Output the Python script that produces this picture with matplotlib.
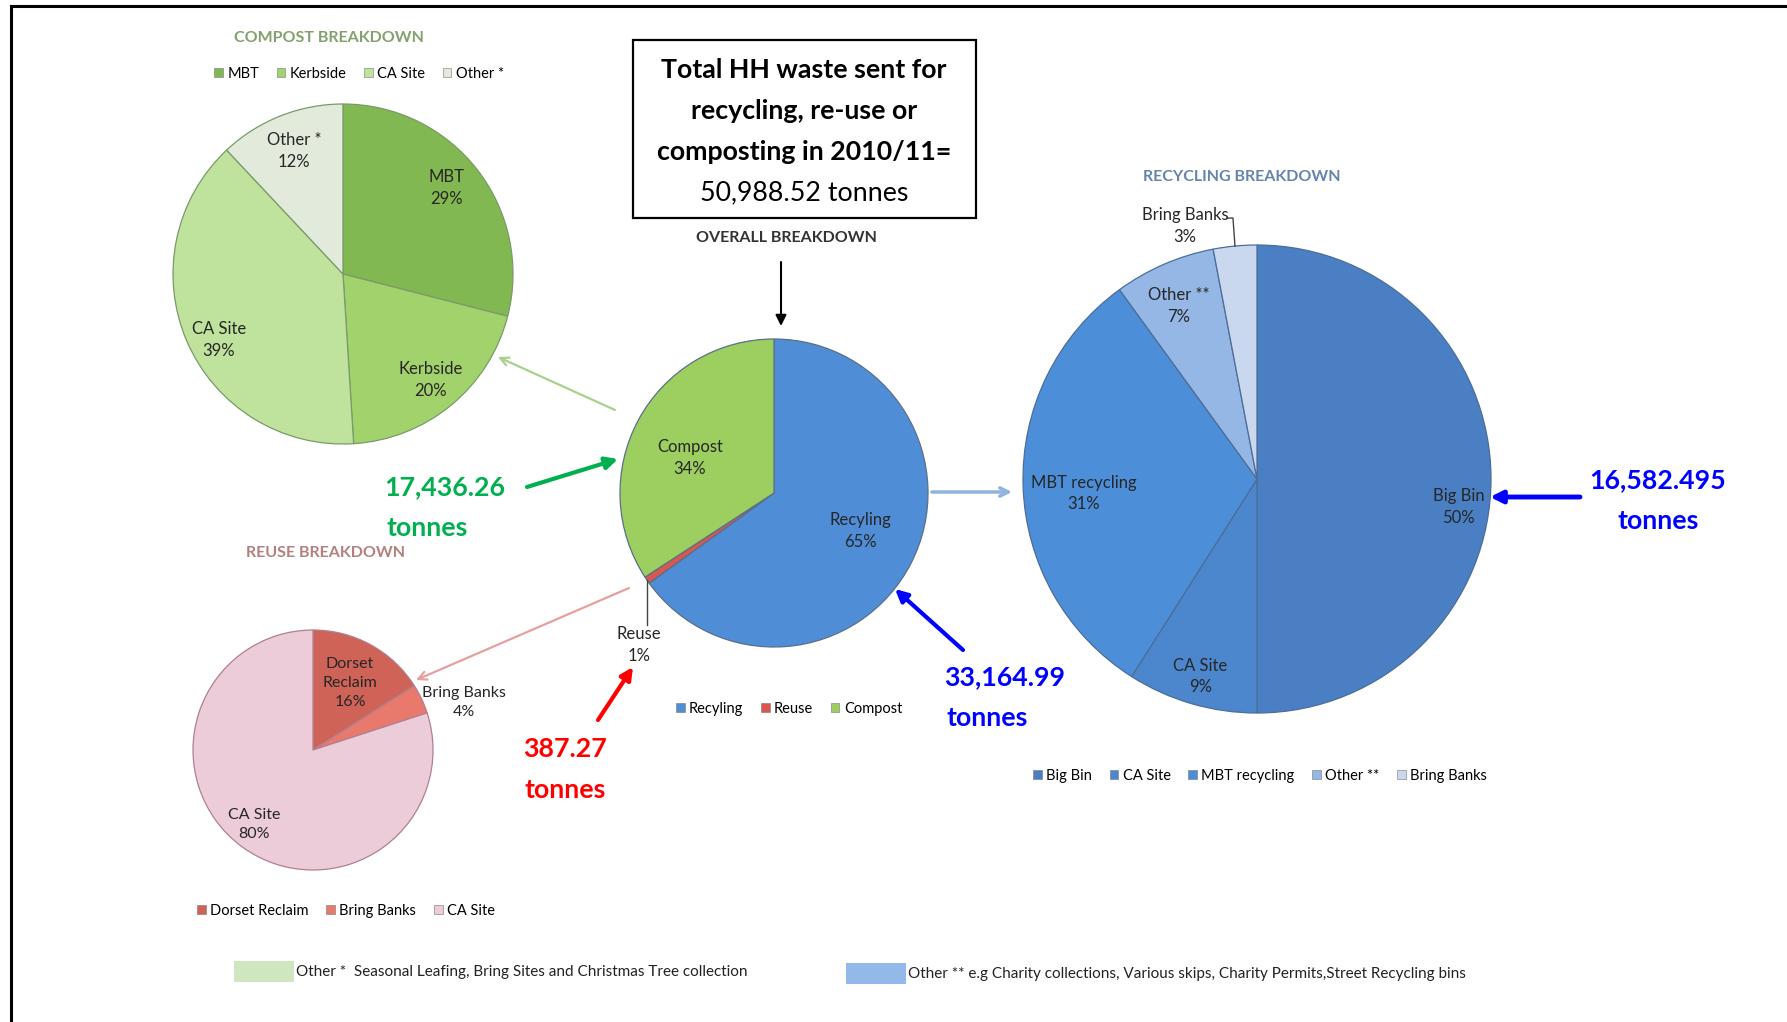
import numpy as np
import matplotlib
matplotlib.use("Agg")
import matplotlib.pyplot as plt
from matplotlib.patches import Rectangle, Patch

plt.rcParams['font.family'] = ['Lato', 'DejaVu Sans']

# ---------------- data ----------------
compost_labels = ['MBT', 'Kerbside', 'CA Site', 'Other *']
compost_pct = [29, 20, 39, 12]

overall_labels = ['Recyling', 'Reuse', 'Compost']
overall_tonnes = [33164.99, 387.27, 17436.26]

recycling_labels = ['Big Bin', 'CA Site', 'MBT recycling', 'Other **', 'Bring Banks']
recycling_pct = [50, 9, 31, 7, 3]

reuse_labels = ['Dorset Reclaim', 'Bring Banks', 'CA Site']
reuse_pct = [16, 4, 80]

total_tonnes = "50,988.52"
compost_total = "17,436.26"
reuse_total = "387.27"
recycling_total = "33,164.99"
bigbin_total = "16,582.495"

# ---------------- styles ----------------
compost_colors = ['#82b851', '#a2d26c', '#bfe29c', '#e2eadb']
overall_colors = ['#4f8ed6', '#d8574e', '#9ccf60']
recycling_colors = ['#4a7fc4', '#4c87cd', '#4c8fd8', '#95b7e6', '#cad8ef']
reuse_colors = ['#cf6357', '#e9786d', '#ecccd9']

W, H = 1787, 1022
fig = plt.figure(figsize=(W / 100, H / 100), dpi=100)
ax = fig.add_axes([0, 0, 1, 1])

LFS = 12
LSP = 1.45


def draw_pie(values, colors, center, radius, edge):
    wedges, _ = ax.pie(values, colors=colors, center=center, radius=radius,
                       startangle=-90, counterclock=True,
                       wedgeprops=dict(edgecolor=edge, linewidth=0.9))
    return wedges


def label_pie(wedges, texts, dists, center, radius, fs=LFS, offsets=None,
              color='#262626'):
    if offsets is None:
        offsets = [(0, 0)] * len(texts)
    for w, t, d, off in zip(wedges, texts, dists, offsets):
        if t is None:
            continue
        th = np.deg2rad((w.theta1 + w.theta2) / 2)
        x = center[0] + d * radius * np.cos(th) + off[0]
        y = center[1] + d * radius * np.sin(th) + off[1]
        ax.text(x, y, t, ha='center', va='center', fontsize=fs, color=color,
                linespacing=LSP, zorder=5)


def pct_texts(labels, values):
    tot = float(sum(values))
    return [f"{l}\n{round(100 * v / tot):.0f}%" for l, v in zip(labels, values)]


# ---- compost pie ----
c_center, c_r = (343, 274), 170
cw = draw_pie(compost_pct, compost_colors, c_center, c_r, '#7a9a6a')
label_pie(cw, pct_texts(compost_labels, compost_pct), [0.8, 0.81, 0.82, 0.78],
          c_center, c_r, offsets=[(-4, -3), (0, 0), (4, 11), (0, 0)])

# ---- overall pie ----
o_center, o_r = (774, 493), 154
ow = draw_pie(overall_tonnes, overall_colors, o_center, o_r, '#5a6f8a')
otexts = pct_texts(overall_labels, overall_tonnes)
label_pie(ow, [otexts[0], None, otexts[2]], [0.61, 0, 0.6], o_center, o_r,
          offsets=[(3, -5), (0, 0), (-3, 9)])
# reuse leader
th = np.deg2rad((ow[1].theta1 + ow[1].theta2) / 2)
rx = o_center[0] + o_r * np.cos(th)
ry = o_center[1] + o_r * np.sin(th)
ax.plot([rx, rx], [ry, ry + 45], color='#444444', lw=1)
ax.text(rx - 8, ry + 65, otexts[1], ha='center', va='center', fontsize=LFS,
        color='#262626', linespacing=LSP)

# ---- recycling pie ----
r_center, r_r = (1257, 479), 234
rw = draw_pie(recycling_pct, recycling_colors, r_center, r_r, '#4d6d99')
rtexts = pct_texts(recycling_labels, recycling_pct)
label_pie(rw, rtexts[:4] + [None], [0.87, 0.87, 0.74, 0.82, 0], r_center, r_r,
          offsets=[(-2, 28), (0, 2), (0, 9), (-2, 3), (0, 0)])
th = np.deg2rad((rw[4].theta1 + rw[4].theta2) / 2)
bx = r_center[0] + r_r * np.cos(th)
by = r_center[1] + r_r * np.sin(th)
ax.plot([bx, bx - 2, bx - 8], [by, by - 28, by - 28], color='#444444', lw=1)
ax.text(bx - 50, by - 20, rtexts[4], ha='center', va='center', fontsize=LFS,
        color='#262626', linespacing=LSP)

# ---- reuse pie ----
u_center, u_r = (313, 750), 120
uw = draw_pie(reuse_pct, reuse_colors, u_center, u_r, '#b08090')
utexts = pct_texts(reuse_labels, reuse_pct)
utexts[0] = utexts[0].replace('Dorset Reclaim', 'Dorset\nReclaim')
label_pie(uw, utexts, [0.64, 1.32, 0.77], u_center, u_r, fs=11.5,
          offsets=[(0, 0), (8, 20), (-5, 0)])

# ---------------- axes setup ----------------
ax.set_xlim(0, W)
ax.set_ylim(H, 0)
ax.set_aspect('auto')
ax.axis('off')

# ---------------- titles ----------------
ax.text(329, 38, 'COMPOST BREAKDOWN', ha='center', va='center', fontsize=11.5,
        fontweight='bold', color='#84a06e')
ax.text(786, 238, 'OVERALL BREAKDOWN', ha='center', va='center', fontsize=11.5,
        fontweight='bold', color='#333333')
ax.text(1242, 177, 'RECYCLING BREAKDOWN', ha='center', va='center', fontsize=11.5,
        fontweight='bold', color='#6584ad')
ax.text(326, 553, 'REUSE BREAKDOWN', ha='center', va='center', fontsize=11.5,
        fontweight='bold', color='#b57f7d')

# ---------------- total box ----------------
ax.add_patch(Rectangle((633, 40), 343, 178, fill=False, edgecolor='black', lw=1.6))
for yy, t, wgt in [(70, 'Total HH waste sent for', 'bold'),
                   (111, 'recycling, re-use or', 'bold'),
                   (152, 'composting in 2010/11=', 'bold'),
                   (193, f'{total_tonnes} tonnes', 'normal')]:
    ax.text(804, yy, t, ha='center', va='center', fontsize=19.3, fontweight=wgt, color='black')

# ---------------- legends ----------------
def add_legend(labels, colors, xc, yc, fs=10.5):
    handles = [Patch(facecolor=c, edgecolor='#777777', lw=0.4) for c in colors]
    fig.legend(handles, labels, loc='center', bbox_to_anchor=(xc / W, 1 - yc / H),
               ncol=len(labels), frameon=False, fontsize=fs, handlelength=0.6,
               handleheight=0.6, handletextpad=0.3, columnspacing=1.2)

add_legend(compost_labels, compost_colors, 359, 74)
add_legend(overall_labels, overall_colors, 789, 709)
add_legend(recycling_labels, recycling_colors, 1260, 776)
add_legend(reuse_labels, reuse_colors, 346, 911)

# ---------------- annotations ----------------
def arrow(p0, p1, color, lw, style='-|>', ms=18):
    ax.annotate('', xy=p1, xytext=p0,
                arrowprops=dict(arrowstyle=style, color=color, lw=lw,
                                mutation_scale=ms, shrinkA=0, shrinkB=0))

arrow((781, 262), (781, 326), 'black', 1.5, ms=16)
arrow((527, 487), (618, 459), '#00b050', 3)
arrow((615, 410), (498, 357), '#a9d18e', 1.6, style='->', ms=15)
arrow((629, 588), (416, 680), '#e6a0a0', 1.6, style='->', ms=15)
arrow((598, 720), (633, 667), '#ff0000', 3)
arrow((963, 650), (895, 589), '#0000ff', 3)
arrow((932, 492), (1012, 492), '#8fb4dd', 2.5, style='->', ms=15)
arrow((1580, 497), (1490, 497), '#0000ff', 3.5)

BFS = 19.3
for x, y, t, c in [(445, 487, compost_total, '#00b050'), (427, 528, 'tonnes', '#00b050'),
                   (565, 749, reuse_total, '#ff0000'), (565, 790, 'tonnes', '#ff0000'),
                   (1005, 677, recycling_total, '#0000ff'), (987, 718, 'tonnes', '#0000ff'),
                   (1658, 480, bigbin_total, '#0000ff'), (1658, 521, 'tonnes', '#0000ff')]:
    ax.text(x, y, t, ha='center', va='center', fontsize=BFS, fontweight='bold', color=c)

# ---------------- footnotes ----------------
ax.add_patch(Rectangle((234, 961), 60, 21, facecolor='#cfe6c0', edgecolor='none'))
ax.text(296, 972, 'Other *  Seasonal Leafing, Bring Sites and Christmas Tree collection',
        ha='left', va='center', fontsize=11, color='#222222')
ax.add_patch(Rectangle((846, 963), 60, 21, facecolor='#93b8ea', edgecolor='none'))
ax.text(908, 974, 'Other ** e.g Charity collections, Various skips, Charity Permits,Street Recycling bins',
        ha='left', va='center', fontsize=11, color='#222222')

# ---------------- page border ----------------
ax.plot([11, 11], [6, H], color='black', lw=2.2, clip_on=False)
ax.plot([11, W], [6, 6], color='black', lw=2.2, clip_on=False)

fig.savefig('out.png', dpi=100, facecolor='white')
